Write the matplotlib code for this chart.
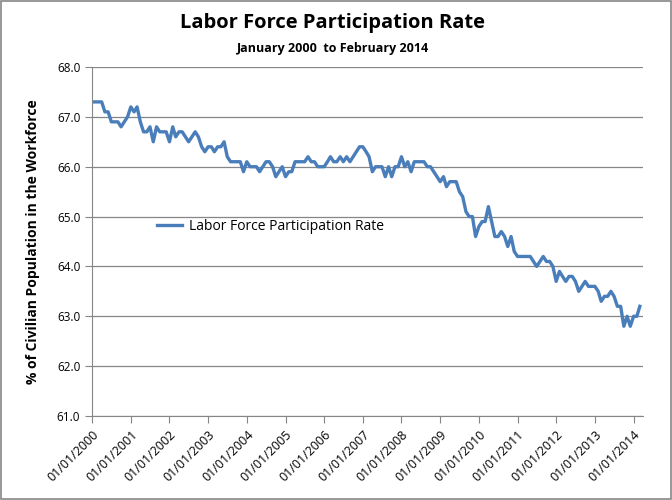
import matplotlib
matplotlib.use("Agg")
import matplotlib.pyplot as plt
from matplotlib.patches import Rectangle
import numpy as np
import datetime as dt

# monthly participation rate, Jan 2000 .. Mar 2014
y2000 = [67.3, 67.3, 67.3, 67.3, 67.1, 67.1, 66.9, 66.9, 66.9, 66.8, 66.9, 67.0]
y2001 = [67.2, 67.1, 67.2, 66.9, 66.7, 66.7, 66.8, 66.5, 66.8, 66.7, 66.7, 66.7]
y2002 = [66.5, 66.8, 66.6, 66.7, 66.7, 66.6, 66.5, 66.6, 66.7, 66.6, 66.4, 66.3]
y2003 = [66.4, 66.4, 66.3, 66.4, 66.4, 66.5, 66.2, 66.1, 66.1, 66.1, 66.1, 65.9]
y2004 = [66.1, 66.0, 66.0, 66.0, 65.9, 66.0, 66.1, 66.1, 66.0, 65.8, 65.9, 66.0]
y2005 = [65.8, 65.9, 65.9, 66.1, 66.1, 66.1, 66.1, 66.2, 66.1, 66.1, 66.0, 66.0]
y2006 = [66.0, 66.1, 66.2, 66.1, 66.1, 66.2, 66.1, 66.2, 66.1, 66.2, 66.3, 66.4]
y2007 = [66.4, 66.3, 66.2, 65.9, 66.0, 66.0, 66.0, 65.8, 66.0, 65.8, 66.0, 66.0]
y2008 = [66.2, 66.0, 66.1, 65.9, 66.1, 66.1, 66.1, 66.1, 66.0, 66.0, 65.9, 65.8]
y2009 = [65.7, 65.8, 65.6, 65.7, 65.7, 65.7, 65.5, 65.4, 65.1, 65.0, 65.0, 64.6]
y2010 = [64.8, 64.9, 64.9, 65.2, 64.9, 64.6, 64.6, 64.7, 64.6, 64.4, 64.6, 64.3]
y2011 = [64.2, 64.2, 64.2, 64.2, 64.2, 64.1, 64.0, 64.1, 64.2, 64.1, 64.1, 64.0]
y2012 = [63.7, 63.9, 63.8, 63.7, 63.8, 63.8, 63.7, 63.5, 63.6, 63.7, 63.6, 63.6]
y2013 = [63.6, 63.5, 63.3, 63.4, 63.4, 63.5, 63.4, 63.2, 63.2, 62.8, 63.0, 62.8]
y2014 = [63.0, 63.0, 63.2]

rate = y2000 + y2001 + y2002 + y2003 + y2004 + y2005 + y2006 + y2007 + y2008 + \
       y2009 + y2010 + y2011 + y2012 + y2013 + y2014
months = [dt.date(2000 + i // 12, i % 12 + 1, 1) for i in range(len(rate))]
years = list(range(2000, 2015))

plt.rcParams['font.family'] = ["Open Sans", 'DejaVu Sans']

fig = plt.figure(figsize=(6.72, 5.0), dpi=100)
ax = fig.add_axes([0.137, 0.168, 0.82, 0.698])

ax.plot(months, rate, color="#4a7ebb", lw=2.4, label="Labor Force Participation Rate")

ax.set_ylim(61, 68)
ax.set_yticks(np.arange(61, 68.5, 1.0))
ax.set_yticklabels(["%.1f" % v for v in np.arange(61, 68.5, 1.0)], fontsize=8.5)
ax.set_xlim(dt.date(2000, 1, 1), dt.date(2014, 4, 1))
ax.set_xticks([dt.date(y, 1, 1) for y in years])
ax.set_xticklabels(["01/01/%d" % y for y in years], rotation=45, ha="right",
                   rotation_mode="anchor", fontsize=9)
ax.grid(axis="y", color="#868686", lw=0.9)
ax.set_axisbelow(True)
for s in ["top", "right"]:
    ax.spines[s].set_visible(False)
for s in ["left", "bottom"]:
    ax.spines[s].set_color("#868686")
ax.tick_params(axis="both", color="#868686", length=5, direction="out")

ax.set_ylabel("% of Civilian Population in the Workforce", fontsize=10,
              fontweight="bold", labelpad=12)

fig.text(0.495, 0.954, "Labor Force Participation Rate", ha="center", va="center",
         fontsize=14.5, fontweight="bold")
fig.text(0.495, 0.903, "January 2000  to February 2014", ha="center", va="center",
         fontsize=9, fontweight="bold")

ax.legend(loc="upper left", bbox_to_anchor=(0.095, 0.6), frameon=False,
          fontsize=10, handlelength=1.8, handletextpad=0.5)

fig.add_artist(Rectangle((0.002, 0.002), 0.996, 0.996, transform=fig.transFigure,
                         fill=False, edgecolor="#868686", lw=1.2))

fig.savefig("out.png", dpi=100)
